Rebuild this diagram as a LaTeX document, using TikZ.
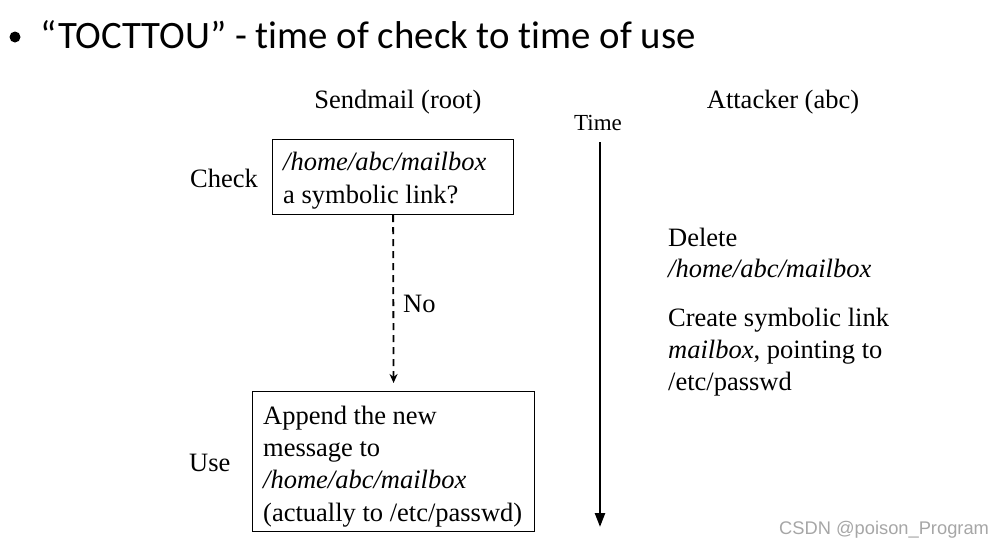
\documentclass[tikz,border=0pt]{standalone}
\usepackage{fontspec}
\setmainfont{Liberation Serif}
\newfontfamily\titlefont[Ligatures={NoCommon}]{Carlito}
\newfontfamily\wmfont{Liberation Sans}
\usetikzlibrary{arrows.meta}
\begin{document}
\begin{tikzpicture}[x=1pt,y=-1pt,
  lbl/.style={font=\fontsize{26.5}{32}\selectfont, inner sep=0pt, anchor=base west},
  box/.style={draw, line width=1.2pt, anchor=north west, inner sep=0pt},
  ]
\useasboundingbox (0,0) rectangle (1005,549);
\node[circle, fill, inner sep=0pt, minimum size=11pt] (bullet) at (15,37) {};
\node[font=\titlefont\fontsize{38.8}{44}\selectfont, anchor=base west, inner sep=0pt] (title) at (40,48) {“TOCTTOU” - time of check to time of use};
\node[lbl, anchor=base] (sendmail) at (398,108) {Sendmail (root)};
\node[lbl, anchor=base] (attacker) at (783,108) {Attacker (abc)};
\node[font=\fontsize{23}{28}\selectfont, inner sep=0pt, anchor=base] (timelbl) at (598,130) {Time};
% check box
\node[box, minimum width=241pt, minimum height=75pt] (checkbox) at (272,139) {};
\node[lbl] (c1) at (283,170) {\itshape /home/abc/mailbox};
\node[lbl] (c2) at (283,203) {a symbolic link?};
\node[lbl] (check) at (190,187) {Check};
% use box
\node[box, minimum width=282pt, minimum height=140pt] (usebox) at (252,391) {};
\node[lbl] (u1) at (263,424) {Append the new};
\node[lbl] (u2) at (263,456) {message to};
\node[lbl] (u3) at (263,488) {\itshape /home/abc/mailbox};
\node[lbl] (u4) at (263,521) {(actually to /etc/passwd)};
\node[lbl] (use) at (189,471) {Use};
% dashed arrow
\draw[line width=1.8pt, dash pattern=on 7pt off 5pt, -{Stealth[length=9pt,width=8pt]}, shorten >=8pt] (checkbox.south) -- (usebox.north);
\node[lbl] (no) at (403,312) {No};
% time arrow
\coordinate (tstart) at (600,142);
\coordinate (tend) at (600,527);
\draw[line width=2.4pt, -{Triangle[length=14pt,width=10pt]}] (tstart) -- (tend);
% attacker actions
\node[lbl] (a1) at (668,246) {Delete};
\node[lbl] (a2) at (668,277) {\itshape /home/abc/mailbox};
\node[lbl] (a3) at (668,326) {Create symbolic link};
\node[lbl] (a4) at (668,358) {\textit{mailbox}, pointing to};
\node[lbl] (a5) at (668,390) {/etc/passwd};
% watermark
\node[font=\wmfont\fontsize{18.3}{21}\selectfont, text=gray!70, anchor=west, inner sep=0pt] (wm) at (779,530) {CSDN @poison\_Program};
\end{tikzpicture}
\end{document}
